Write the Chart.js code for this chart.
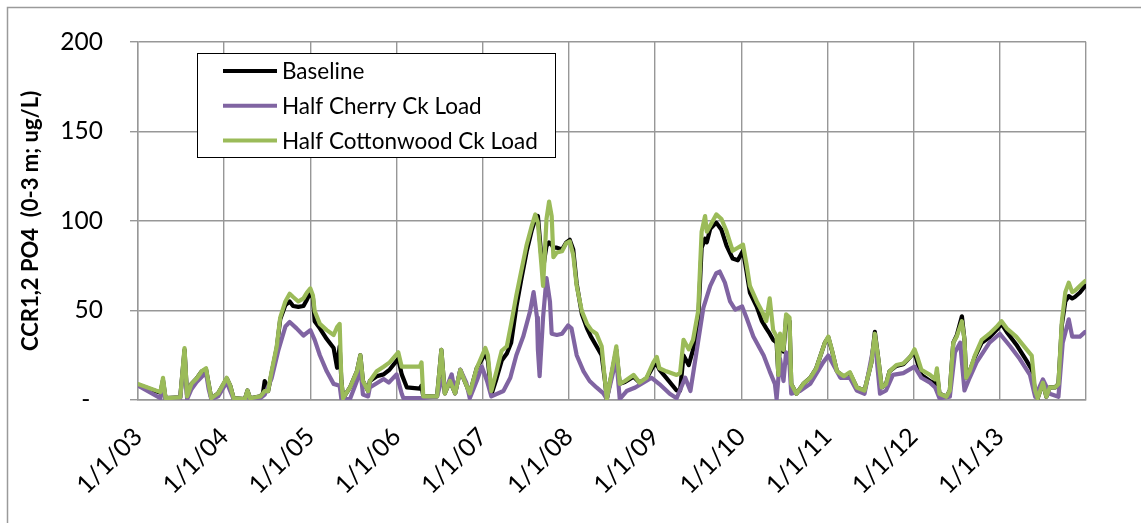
<!DOCTYPE html>
<html>
<head>
<meta charset="utf-8">
<title>CCR1,2 PO4</title>
<script src="https://cdn.jsdelivr.net/npm/chart.js@4.4.0/dist/chart.umd.min.js"></script>
<style>
  html, body { margin: 0; padding: 0; background: #fff; }
  #wrap { width: 1141px; height: 523px; }
  canvas { display: block; }
</style>
</head>
<body>
<div id="wrap"><canvas id="chart" width="1141" height="523"></canvas></div>
<script>
// Axis labels
const yearTicks = [2003, 2004, 2005, 2006, 2007, 2008, 2009, 2010, 2011, 2012, 2013, 2014];
const tickLabels = ['1/1/03', '1/1/04', '1/1/05', '1/1/06', '1/1/07', '1/1/08',
                    '1/1/09', '1/1/10', '1/1/11', '1/1/12', '1/1/13', ''];
const yTicks = [0, 50, 100, 150, 200];
const seriesNames = ['Baseline', 'Half Cherry Ck Load', 'Half Cottonwood Ck Load'];

// Dates (decimal years) shared by the Baseline and Half Cottonwood runs
const dates = [
  2003.00, 2003.26, 2003.29, 2003.32, 2003.49, 2003.54, 2003.57, 2003.62, 2003.68, 2003.74, 2003.79, 2003.82, 2003.85, 2003.93,
  2004.03, 2004.07, 2004.11, 2004.24, 2004.27, 2004.30, 2004.42, 2004.45, 2004.47, 2004.51, 2004.55, 2004.61, 2004.65, 2004.71, 2004.76, 2004.80, 2004.86, 2004.92, 2004.96,
  2005.00, 2005.03, 2005.05, 2005.11, 2005.19, 2005.27, 2005.31, 2005.34, 2005.36, 2005.38, 2005.46, 2005.54, 2005.58, 2005.61, 2005.67, 2005.69, 2005.77, 2005.85, 2005.92,
  2006.02, 2006.06, 2006.12, 2006.27, 2006.29, 2006.31, 2006.47, 2006.52, 2006.56, 2006.62, 2006.68, 2006.74, 2006.79, 2006.85, 2006.93,
  2007.03, 2007.06, 2007.10, 2007.16, 2007.22, 2007.28, 2007.33, 2007.39, 2007.45, 2007.51, 2007.57, 2007.61, 2007.64, 2007.68, 2007.70, 2007.72, 2007.74, 2007.77, 2007.80, 2007.82, 2007.86, 2007.92, 2007.97,
  2008.01, 2008.05, 2008.09, 2008.15, 2008.21, 2008.26, 2008.32, 2008.38, 2008.42, 2008.44, 2008.55, 2008.59, 2008.65, 2008.75, 2008.82, 2008.90, 2008.98,
  2009.02, 2009.05, 2009.13, 2009.25, 2009.29, 2009.33, 2009.39, 2009.44, 2009.50, 2009.54, 2009.58, 2009.60, 2009.64, 2009.71, 2009.77, 2009.83, 2009.90, 2009.96,
  2010.02, 2010.06, 2010.10, 2010.18, 2010.24, 2010.29, 2010.33, 2010.37, 2010.41, 2010.43, 2010.45, 2010.49, 2010.52, 2010.56, 2010.58, 2010.64, 2010.72, 2010.80, 2010.87, 2010.97,
  2011.01, 2011.05, 2011.11, 2011.19, 2011.26, 2011.34, 2011.43, 2011.51, 2011.55, 2011.59, 2011.63, 2011.68, 2011.72, 2011.80, 2011.88, 2011.96,
  2012.01, 2012.05, 2012.09, 2012.19, 2012.25, 2012.27, 2012.30, 2012.38, 2012.42, 2012.46, 2012.50, 2012.56, 2012.59, 2012.61, 2012.65, 2012.71, 2012.79, 2012.88, 2012.96,
  2013.02, 2013.08, 2013.19, 2013.31, 2013.37, 2013.41, 2013.44, 2013.50, 2013.54, 2013.58, 2013.64, 2013.68, 2013.72, 2013.76, 2013.80, 2013.84, 2013.87, 2013.93, 2013.99
];

// PO4, 0-3 m, ug/L
const baseline = [
  8.5, 4, 11, 1, 1.5, 28, 2, 9, 12, 16, 17, 9, 1, 3.7,
  12, 8, 1, 0.5, 5.3, 1, 2, 3.7, 10.6, 5, 15, 29, 45, 53, 55, 52.5, 52, 52.5, 56,
  60, 57, 44, 40, 34, 29, 18, 30, 10.6, 1, 7, 16, 25, 10.6, 5, 10.6, 13.3, 14.3, 17,
  23, 14.3, 7, 6.4, 8, 2, 2, 28, 3.7, 10.6, 3.7, 16.8, 10.6, 3.7, 17.7,
  26, 22, 3, 12, 22, 26, 32, 52, 68, 83, 95, 101, 102.7, 80, 72.7, 80, 86, 88, 86.7, 85, 85, 84, 88,
  89.4, 84, 65, 48, 40, 35, 30, 25, 10, 0.5, 28, 9, 10, 13, 9.7, 12, 19,
  20, 17, 12.4, 5.3, 5.3, 24.8, 19.5, 28, 44, 85, 90, 88, 95.6, 99, 95, 86, 79, 78,
  83.3, 72, 60, 52, 44, 40, 37, 33.6, 32, 14, 35, 27, 46, 44, 9, 3.5, 9, 12.4, 17.7, 32,
  35, 28, 16, 13, 15, 7, 5.3, 21, 38, 23, 7, 8.9, 16, 19, 20, 24,
  27, 20, 14, 10.6, 9, 15, 3.5, 1.8, 5.3, 32, 36, 46.7, 33.6, 12.4, 16, 24, 32, 35, 39,
  42.5, 38, 31, 22, 17, 5, 1, 9.7, 1.8, 7, 7, 8.9, 42, 55, 58, 56.7, 57.5, 60, 63.7
];

const halfCottonwood = [
  8.9, 4.4, 12.4, 1, 1.5, 29, 2, 9, 12, 16, 17.7, 9, 1, 3.7,
  12.4, 8, 1, 0.5, 5.3, 1, 2, 3.7, 5, 5, 16, 30, 46, 55, 59.3, 57.5, 55, 56.7, 60,
  62.3, 58.4, 49.6, 42.5, 39, 36.3, 40.7, 42.5, 10.6, 1, 7, 16, 25, 10.6, 5, 10.6, 16, 18.6, 21,
  26.6, 18.6, 18.6, 18.6, 21, 2, 2, 28, 3.7, 10.6, 3.7, 16.8, 10.6, 3.7, 17.7,
  29, 25, 5, 16, 27.5, 30, 42.5, 58.4, 72.6, 86.7, 97.4, 103.6, 99, 76, 63.7, 81.4, 101, 110.7, 102.7, 79.7, 82.3, 83, 87.6,
  88.5, 81, 63.7, 49.6, 42.5, 39, 37, 30, 10, 0.5, 30, 9, 10.6, 14, 9.7, 12.4, 21,
  24, 17.7, 16, 14, 15, 33.6, 28.3, 33.6, 49.6, 94, 102.7, 94, 97.4, 103.6, 101, 94, 83.3, 85,
  86.7, 76, 63.7, 55, 49.6, 44, 56.7, 39, 35.4, 14, 37, 28, 47.8, 46, 9, 3.5, 9, 12.4, 17.7, 32,
  35.4, 28.3, 16, 13.3, 15.5, 7, 5.3, 21, 37, 23, 7, 8.9, 16, 19.5, 20.4, 24,
  28.3, 23, 16.8, 14, 11.5, 17.7, 3.5, 1.8, 5.3, 32, 35.4, 44, 33.6, 12.4, 16, 24.8, 33.6, 37, 40.7,
  44, 40, 35.4, 28.3, 24.8, 5.3, 1, 9.7, 1.8, 7, 7, 8.9, 44, 60.2, 65.5, 60.2, 61, 63.7, 66.4
];

// Dates (decimal years) of the Half Cherry run
const cherryDates = [
  2003.00, 2003.26, 2003.29, 2003.32, 2003.49, 2003.54, 2003.57, 2003.62, 2003.68, 2003.74, 2003.79, 2003.82, 2003.85, 2003.93,
  2004.03, 2004.07, 2004.11, 2004.24, 2004.27, 2004.30, 2004.42, 2004.47, 2004.55, 2004.63, 2004.71, 2004.76, 2004.84, 2004.92,
  2005.00, 2005.05, 2005.11, 2005.19, 2005.27, 2005.34, 2005.36, 2005.46, 2005.54, 2005.58, 2005.61, 2005.67, 2005.69, 2005.85, 2005.91,
  2006.00, 2006.06, 2006.08, 2006.29, 2006.47, 2006.52, 2006.58, 2006.64, 2006.68, 2006.74, 2006.81, 2006.85, 2006.93, 2006.99,
  2007.05, 2007.10, 2007.24, 2007.32, 2007.39, 2007.47, 2007.55, 2007.59, 2007.63, 2007.64, 2007.66, 2007.70, 2007.74, 2007.78, 2007.80, 2007.86, 2007.92, 2007.99,
  2008.03, 2008.09, 2008.17, 2008.24, 2008.32, 2008.40, 2008.44, 2008.55, 2008.59, 2008.67, 2008.77, 2008.96,
  2009.05, 2009.17, 2009.25, 2009.35, 2009.41, 2009.48, 2009.56, 2009.64, 2009.71, 2009.75, 2009.81, 2009.87, 2009.93,
  2010.01, 2010.06, 2010.14, 2010.26, 2010.33, 2010.39, 2010.41, 2010.45, 2010.49, 2010.52, 2010.56, 2010.58, 2010.68, 2010.80, 2010.95,
  2011.01, 2011.07, 2011.15, 2011.26, 2011.34, 2011.43, 2011.55, 2011.61, 2011.68, 2011.76, 2011.88,
  2012.01, 2012.09, 2012.19, 2012.25, 2012.30, 2012.42, 2012.48, 2012.54, 2012.59, 2012.65, 2012.73, 2012.88,
  2013.00, 2013.12, 2013.23, 2013.35, 2013.41, 2013.50, 2013.58, 2013.68, 2013.73, 2013.80, 2013.84, 2013.93, 2013.99
];

const halfCherry = [
  8, 1, 8, 0.5, 1, 26, 0.5, 6, 10, 13, 15, 6, 0.5, 2,
  10, 5, 0.5, 0, 4, 0.5, 1, 3, 12, 28, 41, 43.5, 40, 36,
  39, 33.6, 25, 16, 9, 8, 0.5, 0.5, 10.6, 17.7, 3, 2, 7, 11.7, 9.7,
  14.3, 3.5, 1, 1, 2, 10.6, 7, 14.3, 3.7, 17, 9.5, 1, 10.6, 18.6,
  10.6, 2, 5, 12.4, 25, 35.4, 49.6, 60.2, 46, 28.3, 13.3, 46, 68, 55, 37, 36.3, 37, 41.6,
  40, 25, 16, 10.6, 7, 3.7, 0.5, 23, 0.5, 5, 7, 12.4,
  8.9, 3.5, 1, 12.4, 5, 26.6, 51.4, 63.7, 70.8, 71.7, 65.5, 55, 50.4,
  52.2, 46, 35.4, 24.8, 16, 9, 0.5, 23, 10.6, 26.6, 19.5, 3.5, 5, 9, 21,
  24.8, 19.5, 12.4, 12.4, 5.3, 3.5, 33.6, 3.5, 5.3, 14, 15,
  18.6, 12.4, 9.7, 7, 1, 1.8, 26.6, 32, 5.3, 12.4, 21, 32,
  37, 30, 23, 14, 1.8, 11.5, 3.5, 1.8, 32, 45, 35.4, 35.4, 38
];

const toPoints = (xs, ys) => xs.map((x, i) => ({ x: x, y: ys[i] }));

Chart.defaults.font.family = 'Lato, "Open Sans", sans-serif';
Chart.defaults.color = '#000';

const GRID = '#979797';

// White page with the thin frame running off the right and bottom edges
const framePlugin = {
  id: 'frame',
  beforeDraw(chart) {
    const ctx = chart.ctx;
    ctx.save();
    ctx.fillStyle = '#fff';
    ctx.fillRect(0, 0, chart.width, chart.height);
    ctx.strokeStyle = '#9a9a9a';
    ctx.lineWidth = 1.5;
    ctx.beginPath();
    ctx.moveTo(7.5, chart.height);
    ctx.lineTo(7.5, 7.5);
    ctx.lineTo(chart.width, 7.5);
    ctx.stroke();
    ctx.restore();
  }
};

// Boxed legend drawn inside the plot area, above the gridlines
const boxedLegend = {
  id: 'boxedLegend',
  afterDatasetsDraw(chart) {
    const ctx = chart.ctx;
    const box = { x: 197, y: 53, w: 358, h: 104 };
    ctx.save();
    ctx.fillStyle = '#fff';
    ctx.fillRect(box.x, box.y, box.w, box.h);
    ctx.strokeStyle = '#000';
    ctx.lineWidth = 1;
    ctx.strokeRect(box.x + 0.5, box.y + 0.5, box.w, box.h);
    ctx.font = '22.5px Lato, "Open Sans", sans-serif';
    ctx.textBaseline = 'middle';
    ctx.textAlign = 'left';
    chart.data.datasets.forEach((ds, i) => {
      const y = 71 + i * 34.8;
      ctx.strokeStyle = ds.borderColor;
      ctx.lineWidth = 4;
      ctx.lineCap = 'butt';
      ctx.beginPath();
      ctx.moveTo(223, y);
      ctx.lineTo(277, y);
      ctx.stroke();
      ctx.fillStyle = '#000';
      ctx.fillText(ds.label, 282, y + 1);
    });
    ctx.restore();
  }
};

const lineStyle = {
  borderWidth: 4.2,
  pointRadius: 0,
  tension: 0,
  borderJoinStyle: 'round',
  borderCapStyle: 'round',
  fill: false
};

new Chart(document.getElementById('chart'), {
  type: 'line',
  data: {
    datasets: [
      Object.assign({ label: seriesNames[0], data: toPoints(dates, baseline),
        borderColor: '#000000', order: 2 }, lineStyle),
      Object.assign({ label: seriesNames[1], data: toPoints(cherryDates, halfCherry),
        borderColor: '#8064A2', order: 1 }, lineStyle),
      Object.assign({ label: seriesNames[2], data: toPoints(dates, halfCottonwood),
        borderColor: '#9BBB59', order: 0 }, lineStyle)
    ]
  },
  options: {
    responsive: false,
    animation: false,
    devicePixelRatio: 1,
    events: [],
    layout: { padding: { left: 0, top: 23, right: 55, bottom: 0 } },
    plugins: {
      legend: { display: false },
      tooltip: { enabled: false }
    },
    scales: {
      x: {
        type: 'linear',
        min: 2003,
        max: 2014,
        afterBuildTicks(scale) {
          scale.ticks = yearTicks.map(v => ({ value: v }));
        },
        afterFit(scale) { scale.height = 123; },
        ticks: {
          autoSkip: false,
          maxRotation: 45,
          minRotation: 45,
          padding: 22,
          labelOffset: 0,
          font: { size: 25 },
          color: '#000',
          callback: (v, i) => tickLabels[i]
        },
        grid: { color: GRID, lineWidth: 1.4, drawTicks: false },
        border: { color: GRID, width: 1.4 }
      },
      y: {
        min: 0,
        max: 200,
        afterBuildTicks(scale) {
          scale.ticks = yTicks.map(v => ({ value: v }));
        },
        afterFit(scale) { scale.width = 138; },
        ticks: {
          padding: 27,
          font: { size: 24.5 },
          color: '#000',
          callback: v => (v === 0 ? '-  ' : String(v))
        },
        grid: { color: GRID, lineWidth: 1.4, tickLength: 8, drawTicks: true },
        border: { color: GRID, width: 1.4 },
        title: {
          display: true,
          text: 'CCR1,2 PO4  (0-3 m; ug/L)',
          font: { size: 22, weight: 'bold' },
          color: '#000',
          padding: { top: 18, bottom: 0 }
        }
      }
    }
  },
  plugins: [framePlugin, boxedLegend]
});
</script>
</body>
</html>
